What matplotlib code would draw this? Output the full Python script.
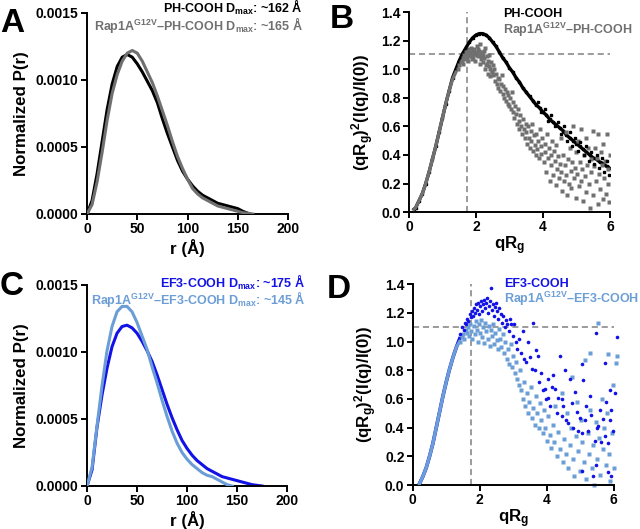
import numpy as np
import matplotlib
matplotlib.use("Agg")
from matplotlib import pyplot as plt
from matplotlib.ticker import FormatStrFormatter

plt.rcParams['font.family'] = ['Liberation Sans', 'DejaVu Sans']
plt.rcParams['font.weight'] = 'bold'
plt.rcParams['mathtext.fontset'] = 'custom'
plt.rcParams['mathtext.rm'] = 'Liberation Sans:bold'
plt.rcParams['mathtext.it'] = 'Liberation Sans:bold'
plt.rcParams['mathtext.bf'] = 'Liberation Sans:bold'
plt.rcParams['mathtext.default'] = 'rm'

BLACK = '#000000'
GRAY = '#707070'
BLUE = '#1212e6'
LBLUE = '#6b9ed6'

# ---- P(r) panels (A, C) ----
ph_r = [0, 5, 10, 15, 20, 25, 30, 35, 40, 45, 50, 55, 60, 65, 70, 75, 80, 85, 90, 95,
        100, 105, 110, 115, 120, 125, 130, 135, 140, 145, 150, 155, 162]
ph_p = [0, 0.00010, 0.00030, 0.00054, 0.00078, 0.00097, 0.00110, 0.00117, 0.00119, 0.00117,
        0.00112, 0.00106, 0.00099, 0.00092, 0.00083, 0.00071, 0.00060, 0.00050, 0.00040, 0.00032,
        0.00026, 0.00021, 0.00017, 0.00014, 0.00012, 0.00010, 0.00008, 0.00007, 0.00006, 0.00005,
        0.00004, 0.00002, 0]

rap_ph_r = [0, 5, 10, 15, 20, 25, 30, 35, 40, 45, 50, 55, 60, 65, 70, 75, 80, 85, 90, 95,
            100, 105, 110, 115, 120, 125, 130, 135, 140, 145, 150, 155, 165]
rap_ph_p = [0, 0.00007, 0.00024, 0.00046, 0.00070, 0.00090, 0.00104, 0.00114, 0.00120, 0.00122,
            0.00120, 0.00114, 0.00106, 0.00098, 0.00088, 0.00077, 0.00066, 0.00054, 0.00043, 0.00034,
            0.00026, 0.00019, 0.00015, 0.00012, 0.00010, 0.00008, 0.00006, 0.00005, 0.00004, 0.00003,
            0.00002, 0.00001, 0]

ef3_r = [0, 5, 10, 15, 20, 25, 30, 35, 40, 45, 50, 55, 60, 65, 70, 75, 80, 85, 90, 95,
         100, 105, 110, 115, 120, 125, 130, 135, 140, 145, 150, 155, 160, 165, 175]
ef3_p = [0, 0.00012, 0.00044, 0.00068, 0.00088, 0.00104, 0.00114, 0.00119, 0.00120, 0.00118,
         0.00114, 0.00108, 0.00101, 0.00093, 0.00083, 0.00072, 0.00061, 0.00051, 0.00042, 0.00034,
         0.00028, 0.00023, 0.00019, 0.00016, 0.00013, 0.00011, 0.00009, 0.00007, 0.00006, 0.00005,
         0.00004, 0.00003, 0.00002, 0.00001, 0]

rap_ef3_r = [0, 5, 10, 15, 20, 25, 30, 35, 40, 45, 50, 55, 60, 65, 70, 75, 80, 85, 90, 95,
             100, 105, 110, 115, 120, 125, 130, 135, 140, 145]
rap_ef3_p = [0, 0.00014, 0.00045, 0.00075, 0.00101, 0.00119, 0.00130, 0.00134, 0.00134, 0.00130,
             0.00122, 0.00112, 0.00102, 0.00089, 0.00077, 0.00064, 0.00052, 0.00041, 0.00032, 0.00025,
             0.00020, 0.00016, 0.00013, 0.00010, 0.00008, 0.00007, 0.00005, 0.00003, 0.00001, 0]

# ---- Kratky panel B ----
ph_q = [0.15, 0.2, 0.3, 0.4, 0.5, 0.6, 0.7, 0.8, 0.9, 1.0, 1.1, 1.2, 1.3, 1.4, 1.5, 1.6, 1.7, 1.8,
        1.9, 2.0, 2.1, 2.2, 2.3, 2.4, 2.5, 2.6, 2.7, 2.8, 2.9, 3.0, 3.1, 3.2, 3.3, 3.4, 3.5, 3.6,
        3.7, 3.8, 3.9, 4.0, 4.1, 4.2, 4.3, 4.4, 4.5, 4.6, 4.7, 4.8, 4.9, 5.0, 5.1, 5.2, 5.3, 5.4,
        5.5, 5.6, 5.7, 5.8, 5.9, 6.0]
ph_k = [0.02, 0.03, 0.08, 0.13, 0.20, 0.28, 0.37, 0.46, 0.56, 0.66, 0.76, 0.85, 0.94, 1.00, 1.06,
        1.11, 1.15, 1.19, 1.22, 1.24, 1.25, 1.25, 1.24, 1.22, 1.19, 1.16, 1.12, 1.08, 1.05, 1.01,
        0.98, 0.94, 0.91, 0.87, 0.84, 0.81, 0.78, 0.75, 0.73, 0.70, 0.68, 0.65, 0.63, 0.61, 0.59,
        0.57, 0.54, 0.52, 0.50, 0.48, 0.46, 0.44, 0.42, 0.40, 0.38, 0.37, 0.35, 0.34, 0.32, 0.31]
ph_noise_q = [3.85, 3.95, 4.05, 4.15, 4.25, 4.35, 4.45, 4.55, 4.62, 4.72, 4.80, 4.88, 4.95, 5.05,
              5.12, 5.22, 5.30, 5.38, 5.45, 5.52, 5.60, 5.68, 5.75, 5.82, 5.90, 5.97]
ph_noise_k = [0.77, 0.70, 0.72, 0.64, 0.68, 0.60, 0.63, 0.55, 0.60, 0.50, 0.56, 0.46, 0.52, 0.43,
              0.49, 0.40, 0.46, 0.36, 0.42, 0.34, 0.40, 0.31, 0.38, 0.28, 0.36, 0.26]

rap_ph_lo_q = [0.15, 0.2, 0.3, 0.4, 0.5, 0.6, 0.7, 0.8, 0.9, 1.0, 1.1, 1.2, 1.3, 1.4]
rap_ph_lo_k = [0.02, 0.03, 0.08, 0.13, 0.20, 0.28, 0.37, 0.46, 0.56, 0.66, 0.76, 0.85, 0.93, 0.98]
rap_ph_q = [1.45, 1.50, 1.55, 1.58, 1.62, 1.65, 1.68, 1.70, 1.73, 1.75, 1.78, 1.80, 1.82, 1.85, 1.87,
            1.90, 1.92, 1.95, 1.97, 2.00, 2.02, 2.05, 2.08, 2.10, 2.12, 2.15, 2.18, 2.20, 2.22, 2.25,
            2.28, 2.30, 2.33, 2.35, 2.38, 2.40, 2.43, 2.45, 2.48, 2.50,
            1.60, 1.67, 1.72, 1.77, 1.83, 1.88, 1.93, 1.98, 2.03, 2.07, 2.13, 2.17, 2.23, 2.27, 2.32,
            2.37, 2.42, 2.47,
            2.52, 2.55, 2.57, 2.60, 2.62, 2.65, 2.67, 2.70, 2.72, 2.75, 2.77, 2.80, 2.82, 2.85, 2.87,
            2.90, 2.92, 2.95, 2.97, 3.00,
            3.02, 3.05, 3.07, 3.10, 3.12, 3.15, 3.18, 3.20, 3.22, 3.25, 3.28, 3.30, 3.33, 3.35, 3.38,
            3.40, 3.43, 3.45, 3.48,
            3.50, 3.53, 3.55, 3.58, 3.60, 3.63, 3.65, 3.68, 3.70, 3.73, 3.75, 3.78, 3.80, 3.83, 3.85,
            3.88, 3.90, 3.93, 3.95, 3.98,
            4.02, 4.05, 4.07, 4.10, 4.12, 4.15, 4.18, 4.20, 4.23, 4.25, 4.28, 4.30, 4.33, 4.35, 4.38,
            4.40, 4.43, 4.45, 4.48,
            4.50, 4.53, 4.55, 4.58, 4.60, 4.63, 4.65, 4.68, 4.70, 4.73, 4.75, 4.78, 4.80, 4.83, 4.85,
            4.88, 4.90, 4.93, 4.95, 4.98,
            5.00, 5.03, 5.05, 5.08, 5.10, 5.13, 5.15, 5.18, 5.20, 5.23, 5.25, 5.28, 5.30, 5.33, 5.35,
            5.38, 5.40, 5.43, 5.45, 5.48,
            5.50, 5.53, 5.55, 5.58, 5.60, 5.63, 5.65, 5.68, 5.70, 5.73, 5.75, 5.78, 5.80, 5.83, 5.85,
            5.88, 5.90, 5.93, 5.95, 5.98, 6.00]
rap_ph_k = [1.00, 1.03, 1.05, 1.06, 1.08, 1.10, 1.09, 1.12, 1.11, 1.13, 1.10, 1.14, 1.12, 1.15, 1.10,
            1.13, 1.08, 1.14, 1.11, 1.12, 1.16, 1.09, 1.13, 1.10, 1.18, 1.07, 1.12, 1.05, 1.10, 1.08,
            1.15, 1.03, 1.09, 1.06, 1.02, 1.10, 1.00, 1.05, 0.98, 1.03,
            1.04, 1.07, 1.08, 1.06, 1.09, 1.07, 1.11, 1.06, 1.10, 1.14, 1.04, 1.09, 1.13, 1.00, 1.04,
            0.97, 0.95, 0.99,
            0.96, 1.00, 0.92, 0.97, 0.90, 0.94, 0.87, 0.93, 0.85, 0.90, 0.96, 0.83, 0.88, 0.80, 0.86,
            0.78, 0.84, 0.76, 0.82, 0.74,
            0.80, 0.72, 0.84, 0.70, 0.77, 0.66, 0.74, 0.69, 0.62, 0.72, 0.64, 0.58, 0.68, 0.60, 0.55,
            0.65, 0.58, 0.52, 0.62,
            0.56, 0.48, 0.60, 0.52, 0.45, 0.57, 0.50, 0.62, 0.43, 0.54, 0.47, 0.40, 0.55, 0.44, 0.50,
            0.38, 0.58, 0.46, 0.41, 0.52,
            0.35, 0.48, 0.42, 0.28, 0.55, 0.38, 0.45, 0.22, 0.40, 0.33, 0.50, 0.26, 0.43, 0.36, 0.19,
            0.47, 0.30, 0.39, 0.24,
            0.34, 0.52, 0.28, 0.15, 0.40, 0.22, 0.33, 0.56, 0.26, 0.12, 0.37, 0.20, 0.45, 0.29, 0.17,
            0.35, 0.60, 0.24, 0.31, 0.10,
            0.42, 0.27, 0.50, 0.18, 0.35, 0.58, 0.22, 0.30, 0.08, 0.40, 0.25, 0.52, 0.14, 0.33, 0.45,
            0.20, 0.03, 0.37, 0.28, 0.57,
            0.12, 0.32, 0.45, 0.22, 0.38, 0.06, 0.55, 0.27, 0.16, 0.42, 0.33, 0.09, 0.48, 0.24, 0.36,
            0.13, 0.55, 0.30, 0.20, 0.07, 0.40]

# ---- Kratky panel D ----
d_lo_q = [0.2, 0.3, 0.4, 0.5, 0.6, 0.7, 0.8, 0.9, 1.0, 1.1, 1.2, 1.3, 1.4]
ef3_lo_k = [0.01, 0.06, 0.12, 0.20, 0.29, 0.40, 0.51, 0.62, 0.72, 0.81, 0.89, 0.96, 1.02]
rap_ef3_lo_k = [0.01, 0.06, 0.12, 0.20, 0.29, 0.40, 0.51, 0.62, 0.72, 0.81, 0.89, 0.96, 1.00]

ef3_q = [1.42, 1.48, 1.52, 1.56, 1.60, 1.63, 1.66, 1.70, 1.73, 1.76, 1.79, 1.82, 1.85, 1.88, 1.91,
         1.94, 1.97, 2.00,
         2.03, 2.06, 2.09, 2.12, 2.15, 2.18, 2.21, 2.24, 2.27, 2.30, 2.34, 2.37, 2.40, 2.43, 2.46,
         2.49, 2.52, 2.55, 2.58,
         2.62, 2.66, 2.70, 2.74, 2.78, 2.82, 2.86, 2.90, 2.94, 2.98,
         3.03, 3.08, 3.12, 3.17, 3.22, 3.29, 3.33, 3.39, 3.44, 3.49,
         3.55, 3.59, 3.64, 3.69, 3.74, 3.78, 3.84, 3.88, 3.94, 3.98,
         4.04, 4.04, 4.10, 4.15, 4.19, 4.24, 4.30, 4.34, 4.39, 4.44, 4.49, 4.45,
         4.54, 4.58, 4.64, 4.69, 4.74, 4.78, 4.83, 4.89, 4.94, 4.98,
         5.04, 5.04, 5.04, 5.08, 5.13, 5.18, 5.23, 5.28, 5.33, 5.38, 5.43, 5.48, 5.48, 5.50,
         5.53, 5.58, 5.63, 5.68, 5.73, 5.73, 5.78, 5.83, 5.83, 5.88, 5.90, 5.93, 5.93, 5.97, 6.03,
         6.10]
ef3_k = [1.05, 1.10, 1.08, 1.13, 1.12, 1.16, 1.14, 1.19, 1.17, 1.21, 1.18, 1.23, 1.20, 1.26, 1.22,
         1.27, 1.19, 1.25,
         1.28, 1.21, 1.26, 1.29, 1.23, 1.27, 1.30, 1.20, 1.25, 1.28, 1.37, 1.22, 1.26, 1.18, 1.24,
         1.27, 1.21, 1.16, 1.23,
         1.19, 1.13, 1.18, 1.10, 1.15, 1.12, 1.07, 1.16, 1.12, 1.04,
         1.12, 1.00, 0.95, 1.02, 0.92, 1.07, 0.88, 0.86, 1.00, 0.89,
         0.81, 1.13, 0.80, 0.94, 0.90, 0.72, 0.78, 0.66, 0.67, 0.60,
         0.74, 0.61, 0.55, 0.68, 0.77, 0.67, 0.50, 0.61, 0.90, 0.48, 0.55, 0.60,
         0.80, 0.45, 0.43, 0.74, 0.57, 0.40, 0.65, 0.51, 0.38, 0.47,
         0.84, 0.36, 0.10, 0.73, 0.45, 0.55, 0.38, 0.62, 0.49, 0.06, 0.31, 1.06, 0.14, 0.40,
         0.41, 0.52, 0.30, 0.46, 0.85, 0.34, 0.58, 0.29, 0.09, 0.66, 0.45, 0.52, 0.06, 0.38, 0.64,
         1.03]

rap_ef3_q = [1.42, 1.46, 1.50, 1.54, 1.58, 1.62, 1.65, 1.68, 1.72, 1.75, 1.78, 1.82, 1.85, 1.88,
             1.92, 1.95, 1.98,
             2.02, 2.05, 2.08, 2.11, 2.14, 2.17, 2.20, 2.24, 2.27, 2.30, 2.33, 2.36, 2.40, 2.43,
             2.46, 2.50, 2.53, 2.57,
             2.60, 2.64, 2.68, 2.72, 2.76, 2.80, 2.84, 2.88, 2.92, 2.96, 3.00, 3.04, 3.08, 3.12,
             3.16, 3.20,
             3.24, 3.28, 3.32, 3.36, 3.40, 3.44, 3.48, 3.52, 3.56, 3.60, 3.64, 3.68, 3.72, 3.76, 3.80,
             3.84, 3.88, 3.92, 3.96, 4.00, 4.05, 4.10, 4.14, 4.18, 4.22, 4.26, 4.30, 4.35, 4.40,
             4.45, 4.48,
             4.52, 4.56, 4.60, 4.64, 4.68, 4.72, 4.74, 4.78, 4.82, 4.86, 4.90, 4.94, 4.98, 5.02,
             5.06, 5.10, 5.14, 5.18,
             5.22, 5.26, 5.28, 5.30, 5.34, 5.38, 5.42, 5.46, 5.50, 5.53, 5.56, 5.60, 5.64, 5.68,
             5.72, 5.76, 5.80, 5.83, 5.86, 5.90, 5.94, 5.98, 6.00, 6.08, 6.11]
rap_ef3_k = [1.00, 1.03, 1.05, 1.02, 1.08, 1.06, 1.10, 1.04, 1.12, 1.07, 1.02, 1.11, 1.05, 1.14,
             1.08, 1.00, 1.12,
             1.06, 1.15, 1.03, 1.10, 0.99, 1.13, 1.07, 1.02, 1.11, 0.97, 1.08, 1.04, 1.12, 0.98,
             1.06, 1.01, 0.95, 1.09,
             1.02, 0.96, 1.05, 0.92, 1.00, 0.88, 0.95, 0.84, 0.98, 0.82, 0.90, 0.78, 0.86, 0.74,
             0.70, 0.80,
             0.66, 0.60, 0.72, 0.55, 0.64, 0.50, 0.58, 0.68, 0.47, 0.54, 0.42, 0.62, 0.50, 0.40, 0.57,
             0.45, 0.36, 0.52, 0.40, 0.31, 0.48, 0.35, 0.26, 0.42, 0.30, 0.55, 0.20, 0.37, 0.25,
             0.64, 0.16,
             0.32, 0.22, 0.50, 0.12, 0.28, 0.40, 0.75, 0.18, 0.06, 0.34, 0.58, 0.24, 0.10, 0.45,
             0.30, 0.16, 0.87, 0.04,
             0.36, 0.22, 0.92, 0.52, 0.12, 0.28, 0.00, 0.44, 0.18, 1.13, 0.33, 0.07, 0.60, 0.25,
             0.40, 0.14, 0.50, 0.91, 0.22, 0.03, 0.36, 0.70, 0.12, 0.85, 0.90]

legend_A = ["PH-COOH D$_{max}$: ~162 Å", "Rap1A$^{G12V}$–PH-COOH D$_{max}$: ~165 Å"]
legend_B = ["PH-COOH", "Rap1A$^{G12V}$–PH-COOH"]
legend_C = ["EF3-COOH D$_{max}$: ~175 Å", "Rap1A$^{G12V}$–EF3-COOH D$_{max}$: ~145 Å"]
legend_D = ["EF3-COOH", "Rap1A$^{G12V}$–EF3-COOH"]

LAB = 12.2
LEG = 9


def style_axes(ax):
    for s in ['top', 'right']:
        ax.spines[s].set_visible(False)
    for s in ['left', 'bottom']:
        ax.spines[s].set_linewidth(1.4)
    ax.tick_params(direction='out', length=4, width=1.4, labelsize=10, pad=2)
    for lab in ax.get_xticklabels() + ax.get_yticklabels():
        lab.set_fontweight('bold')


def pr_axes(ax):
    ax.set_xlim(0, 200)
    ax.set_ylim(0, 0.0015)
    ax.set_xticks([0, 50, 100, 150, 200])
    ax.set_yticks([0, 0.0005, 0.0010, 0.0015])
    ax.yaxis.set_major_formatter(FormatStrFormatter('%.4f'))
    ax.set_xlabel("r (Å)", fontsize=LAB, fontweight='bold', labelpad=2)
    ax.set_ylabel("Normalized P(r)", fontsize=LAB, fontweight='bold', labelpad=5)
    style_axes(ax)


def kratky_axes(ax):
    ax.set_xlim(0, 6)
    ax.set_ylim(0, 1.4)
    ax.set_xticks([0, 2, 4, 6])
    ax.set_yticks(np.arange(0, 1.41, 0.2))
    ax.yaxis.set_major_formatter(FormatStrFormatter('%.1f'))
    ax.axvline(np.sqrt(3), color='#808080', ls=(0, (4, 2.5)), lw=1.1, zorder=1)
    ax.axhline(3 / np.e, color='#808080', ls=(0, (4, 2.5)), lw=1.1, zorder=1)
    ax.set_xlabel("qR$_g$", fontsize=LAB, fontweight='bold', labelpad=0)
    ax.set_ylabel("(qR$_g$)$^2$(I(q)/I(0))", fontsize=LAB, fontweight='bold', labelpad=4)
    style_axes(ax)


fig = plt.figure(figsize=(6.4, 5.29), dpi=100)
axA = fig.add_axes([0.136, 0.5955, 0.314, 0.380])
axB = fig.add_axes([0.639, 0.599, 0.314, 0.378])
axC = fig.add_axes([0.136, 0.0813, 0.3125, 0.380])
axD = fig.add_axes([0.645, 0.083, 0.314, 0.380])

# A
axA.plot(ph_r, ph_p, color=BLACK, lw=2.2, zorder=2)
axA.plot(rap_ph_r, rap_ph_p, color=GRAY, lw=2.2, zorder=3)
pr_axes(axA)

# C
axC.plot(ef3_r, ef3_p, color=BLUE, lw=2.2, zorder=2)
axC.plot(rap_ef3_r, rap_ef3_p, color=LBLUE, lw=2.2, zorder=3)
pr_axes(axC)

# B
axB.plot(ph_q, ph_k, color=BLACK, lw=2.4, marker='s', ms=2, zorder=2)
axB.plot(ph_noise_q, ph_noise_k, ls='none', marker='s', ms=2, color=BLACK, zorder=4)
axB.plot(rap_ph_lo_q, rap_ph_lo_k, color=GRAY, lw=2.4, zorder=3)
axB.plot(rap_ph_q, rap_ph_k, ls='none', marker='s', ms=2.3, color=GRAY, mec='none', zorder=3)
kratky_axes(axB)

# D
axD.plot(d_lo_q, ef3_lo_k, color=BLUE, lw=2.6, zorder=2)
axD.plot(rap_ef3_q, rap_ef3_k, ls='none', marker='s', ms=2.6, color=LBLUE, mec='none',
         zorder=2, clip_on=False)
axD.plot(ef3_q, ef3_k, ls='none', marker='o', ms=2.6, color=BLUE, mec='none', zorder=3,
         clip_on=False)
axD.plot(d_lo_q, rap_ef3_lo_k, color=LBLUE, lw=2.4, zorder=4)
kratky_axes(axD)

# legends as coloured text
fig.text(0.4734, 0.975, legend_A[0], color=BLACK, fontsize=LEG, fontweight='bold', ha='right', va='baseline')
fig.text(0.4734, 0.943, legend_A[1], color=GRAY, fontsize=LEG, fontweight='bold', ha='right', va='baseline')
fig.text(0.7855, 0.968, legend_B[0], color=BLACK, fontsize=LEG, fontweight='bold', ha='left', va='baseline')
fig.text(0.7855, 0.9365, legend_B[1], color=GRAY, fontsize=LEG, fontweight='bold', ha='left', va='baseline')
fig.text(0.4766, 0.4566, legend_C[0], color=BLUE, fontsize=LEG, fontweight='bold', ha='right', va='baseline')
fig.text(0.4766, 0.4245, legend_C[1], color=LBLUE, fontsize=LEG, fontweight='bold', ha='right', va='baseline')
fig.text(0.788, 0.4575, legend_D[0], color=BLUE, fontsize=LEG, fontweight='bold', ha='left', va='baseline')
fig.text(0.788, 0.428, legend_D[1], color=LBLUE, fontsize=LEG, fontweight='bold', ha='left', va='baseline')

# panel letters
for lx, ly, letter in [(0.0, 0.985, 'A'), (0.515, 0.992, 'B'), (0.0, 0.487, 'C'), (0.511, 0.482, 'D')]:
    fig.text(lx, ly, letter, fontsize=24, fontweight='bold', ha='left', va='top')

fig.savefig('out.png', dpi=100)
